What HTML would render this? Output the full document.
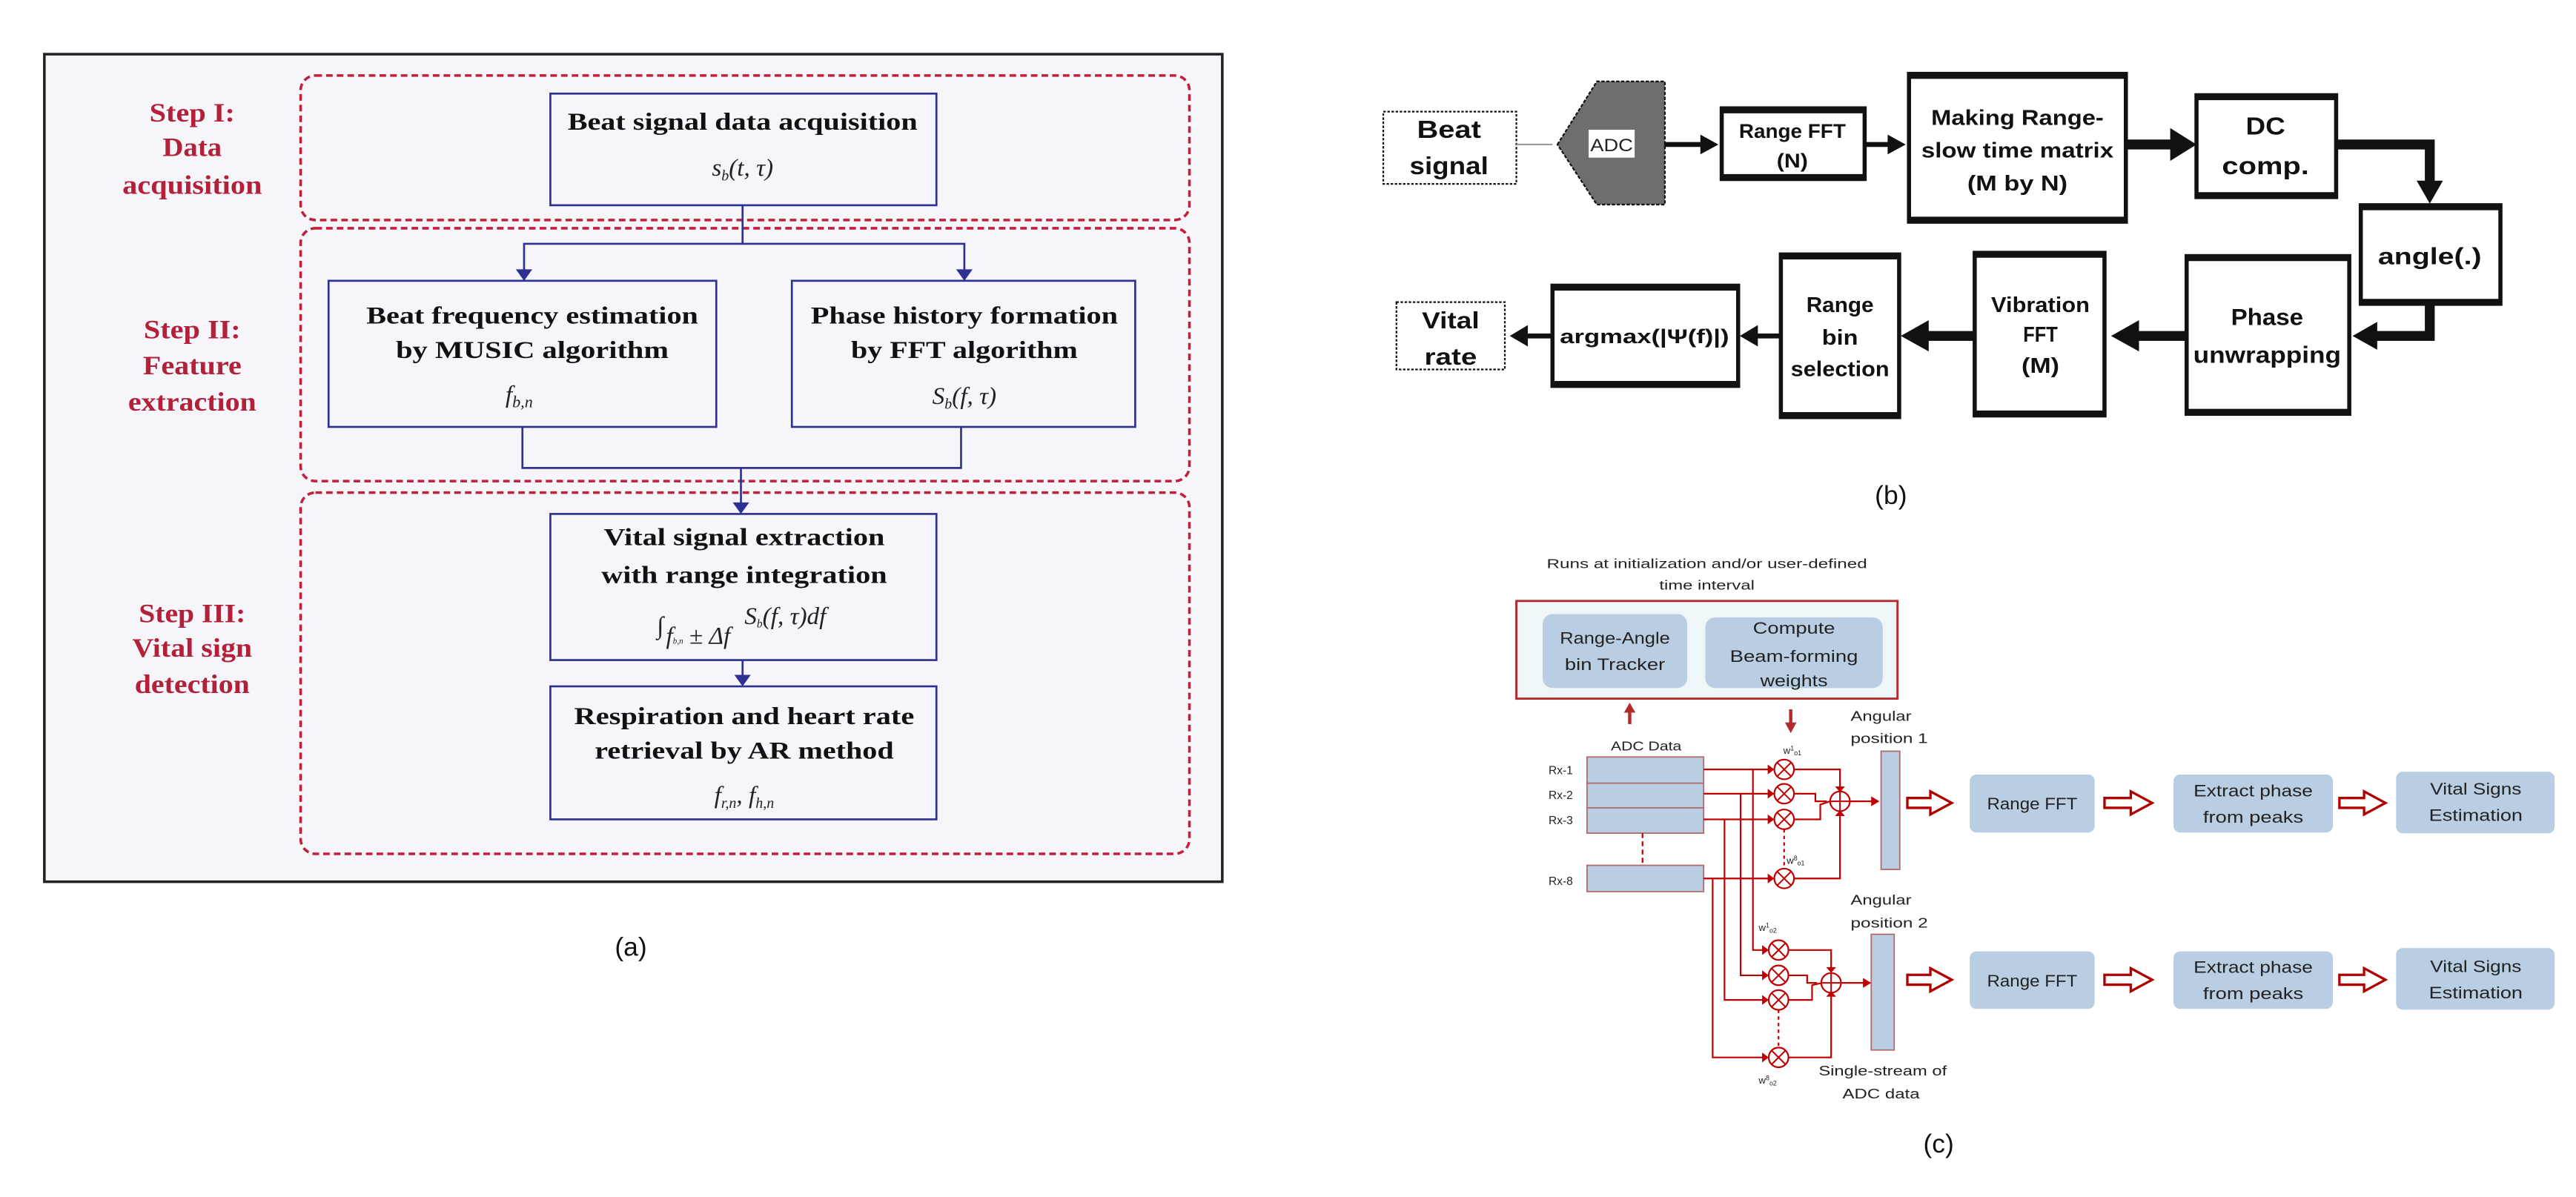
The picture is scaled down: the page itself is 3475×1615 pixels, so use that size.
<!DOCTYPE html>
<html><head><meta charset="utf-8"><style>
html,body{margin:0;padding:0;background:#fff;}
svg{display:block;}
.st{font-family:"Liberation Serif",serif;font-weight:bold;fill:#b3203a;font-size:16px;text-anchor:middle;}
.ta{font-family:"Liberation Serif",serif;font-weight:bold;fill:#111;font-size:15px;text-anchor:middle;}
.fm{font-family:"Liberation Serif",serif;font-style:italic;fill:#222;font-size:15px;text-anchor:middle;}
.tb{font-family:"Liberation Sans",sans-serif;font-weight:bold;fill:#111;text-anchor:middle;}
.tc{font-family:"Liberation Sans",sans-serif;fill:#222;text-anchor:middle;}
.lab{font-family:"Liberation Sans",sans-serif;fill:#111;font-size:16px;text-anchor:middle;}
</style></head><body>
<svg width="3475" height="1615" viewBox="0 0 1568 729" preserveAspectRatio="none" xmlns="http://www.w3.org/2000/svg">
<rect x="0" y="0" width="1568" height="729" fill="#fff"/>
<!-- ========== (a) ========== -->
<rect x="27" y="33" width="717" height="504" fill="#f5f5fa" stroke="#222" stroke-width="1.6"/>
<g fill="none" stroke="#c0203a" stroke-width="1.6" stroke-dasharray="4,2.5">
<rect x="183" y="46" width="541" height="88" rx="9"/>
<rect x="183" y="139" width="541" height="154" rx="9"/>
<rect x="183" y="300" width="541" height="220" rx="9"/>
</g>
<text class="st" x="117" y="74" textLength="52" lengthAdjust="spacingAndGlyphs">Step I:</text>
<text class="st" x="117" y="95" textLength="36" lengthAdjust="spacingAndGlyphs">Data</text>
<text class="st" x="117" y="118" textLength="85" lengthAdjust="spacingAndGlyphs">acquisition</text>
<text class="st" x="117" y="206" textLength="59" lengthAdjust="spacingAndGlyphs">Step II:</text>
<text class="st" x="117" y="228" textLength="60" lengthAdjust="spacingAndGlyphs">Feature</text>
<text class="st" x="117" y="250" textLength="78" lengthAdjust="spacingAndGlyphs">extraction</text>
<text class="st" x="117" y="379" textLength="65" lengthAdjust="spacingAndGlyphs">Step III:</text>
<text class="st" x="117" y="400" textLength="73" lengthAdjust="spacingAndGlyphs">Vital sign</text>
<text class="st" x="117" y="422" textLength="70" lengthAdjust="spacingAndGlyphs">detection</text>
<g fill="none" stroke="#2e3192" stroke-width="1.2">
<rect x="335" y="57" width="235" height="68"/>
<rect x="200" y="171" width="236" height="89"/>
<rect x="482" y="171" width="209" height="89"/>
<rect x="335" y="313" width="235" height="89"/>
<rect x="335" y="418" width="235" height="81"/>
<polyline points="452,125 452,148.5 319,148.5 319,166"/>
<polyline points="452,148.5 587,148.5 587,166"/>
<polyline points="318,260 318,285 585,285 585,260"/>
<line x1="451" y1="285" x2="451" y2="308"/>
<line x1="452" y1="402" x2="452" y2="413"/>
</g>
<g fill="#2e3192">
<polygon points="314,164 324,164 319,171"/>
<polygon points="582,164 592,164 587,171"/>
<polygon points="446,306 456,306 451,313"/>
<polygon points="447,411 457,411 452,418"/>
</g>
<text class="ta" x="452" y="79" textLength="213" lengthAdjust="spacingAndGlyphs">Beat signal data acquisition</text>
<text class="fm" x="452" y="107">s<tspan font-size="9" dy="3">b</tspan><tspan dy="-3">(t, τ)</tspan></text>
<text class="ta" x="324" y="197" textLength="202" lengthAdjust="spacingAndGlyphs">Beat frequency estimation</text>
<text class="ta" x="324" y="218" textLength="166" lengthAdjust="spacingAndGlyphs">by MUSIC algorithm</text>
<text class="fm" x="316" y="245">f<tspan font-size="10" dy="3">b,n</tspan></text>
<text class="ta" x="587" y="197" textLength="187" lengthAdjust="spacingAndGlyphs">Phase history formation</text>
<text class="ta" x="587" y="218" textLength="138" lengthAdjust="spacingAndGlyphs">by FFT algorithm</text>
<text class="fm" x="587" y="246">S<tspan font-size="9" dy="3">b</tspan><tspan dy="-3">(f, τ)</tspan></text>
<text class="ta" x="453" y="332" textLength="171" lengthAdjust="spacingAndGlyphs">Vital signal extraction</text>
<text class="ta" x="453" y="355" textLength="174" lengthAdjust="spacingAndGlyphs">with range integration</text>
<text class="fm" x="402" y="386" font-size="22">∫</text>
<text class="fm" x="425" y="392" font-size="7">f<tspan font-size="5">b,n</tspan> ± Δf</text>
<text class="fm" x="478" y="380" font-size="12">S<tspan font-size="7" dy="2">b</tspan><tspan dy="-2">(f, τ)df</tspan></text>
<text class="ta" x="453" y="441" textLength="207" lengthAdjust="spacingAndGlyphs">Respiration and heart rate</text>
<text class="ta" x="453" y="462" textLength="182" lengthAdjust="spacingAndGlyphs">retrieval by AR method</text>
<text class="fm" x="453" y="489">f<tspan font-size="9" dy="3">r,n</tspan><tspan dy="-3">, f</tspan><tspan font-size="9" dy="3">h,n</tspan></text>
<text class="lab" x="384" y="582">(a)</text>

<!-- ========== (b) ========== -->
<g fill="#fff" stroke="#111">
<rect x="842" y="68" width="81" height="44" stroke-width="1" stroke-dasharray="1.5,1"/>
<rect x="850" y="184" width="66" height="41" stroke-width="1" stroke-dasharray="1.5,1"/>
</g>
<line x1="923" y1="88" x2="945" y2="88" stroke="#999" stroke-width="1"/>
<polygon points="948,88 972,49.6 1013.4,49.6 1013.4,124.6 972,124.6" fill="#6e6e6e" stroke="#111" stroke-width="1" stroke-dasharray="2,1"/>
<rect x="967" y="79" width="28" height="17" fill="#fff"/>
<text class="tc" x="981" y="92" font-size="11" textLength="26" lengthAdjust="spacingAndGlyphs">ADC</text>
<g fill="#fff" stroke="#111" stroke-width="2.5">
<rect x="1048" y="66" width="87" height="43"/>
<rect x="1162" y="45" width="132" height="90"/>
<rect x="1337" y="58" width="85" height="62"/>
<rect x="1437" y="125" width="85" height="60"/>
<rect x="1331" y="156" width="99" height="96"/>
<rect x="1202" y="154" width="79" height="99"/>
<rect x="1084" y="155" width="72" height="99"/>
<rect x="945" y="174" width="113" height="61"/>
</g>
<g stroke="#111" stroke-width="4">
<line x1="1048" y1="67" x2="1135" y2="67"/><line x1="1048" y1="108" x2="1135" y2="108"/>
<line x1="1162" y1="46" x2="1294" y2="46"/><line x1="1162" y1="134" x2="1294" y2="134"/>
<line x1="1337" y1="59" x2="1422" y2="59"/><line x1="1337" y1="119" x2="1422" y2="119"/>
<line x1="1437" y1="126" x2="1522" y2="126"/><line x1="1437" y1="184" x2="1522" y2="184"/>
<line x1="1331" y1="157" x2="1430" y2="157"/><line x1="1331" y1="251" x2="1430" y2="251"/>
<line x1="1202" y1="155" x2="1281" y2="155"/><line x1="1202" y1="252" x2="1281" y2="252"/>
<line x1="1084" y1="156" x2="1156" y2="156"/><line x1="1084" y1="253" x2="1156" y2="253"/>
<line x1="945" y1="175" x2="1058" y2="175"/><line x1="945" y1="234" x2="1058" y2="234"/>
</g>
<g stroke="#111" fill="none">
<line x1="1013" y1="88" x2="1037" y2="88" stroke-width="3"/>
<line x1="1135" y1="88" x2="1151" y2="88" stroke-width="3"/>
<line x1="1294" y1="88" x2="1323" y2="88" stroke-width="6"/>
<polyline points="1422,88 1479,88 1479,112" stroke-width="6"/>
<polyline points="1479,185 1479,204.6 1446,204.6" stroke-width="6"/>
<line x1="1331" y1="204.6" x2="1300" y2="204.6" stroke-width="6"/>
<line x1="1202" y1="204.6" x2="1172" y2="204.6" stroke-width="6"/>
<line x1="1084" y1="204.6" x2="1068" y2="204.6" stroke-width="3"/>
<line x1="945" y1="204.6" x2="928" y2="204.6" stroke-width="3"/>
</g>
<g fill="#111">
<polygon points="1035,82 1046,88 1035,94"/>
<polygon points="1149,82 1160,88 1149,94"/>
<polygon points="1321,78 1337,88 1321,98"/>
<polygon points="1471,110 1487,110 1479,124"/>
<polygon points="1447,196 1447,213 1432,204.6"/>
<polygon points="1302,195 1302,214 1285,204.6"/>
<polygon points="1174,195 1174,214 1157,204.6"/>
<polygon points="1070,198 1070,211 1059,204.6"/>
<polygon points="930,198 930,211 919,204.6"/>
</g>
<text class="tb" x="882" y="84" font-size="15" textLength="39" lengthAdjust="spacingAndGlyphs">Beat</text>
<text class="tb" x="882" y="106" font-size="15" textLength="48" lengthAdjust="spacingAndGlyphs">signal</text>
<text class="tb" x="1091" y="84" font-size="12" textLength="65" lengthAdjust="spacingAndGlyphs">Range FFT</text>
<text class="tb" x="1091" y="102" font-size="12" textLength="19" lengthAdjust="spacingAndGlyphs">(N)</text>
<text class="tb" x="1228" y="76" font-size="13" textLength="105" lengthAdjust="spacingAndGlyphs">Making Range-</text>
<text class="tb" x="1228" y="96" font-size="13" textLength="117" lengthAdjust="spacingAndGlyphs">slow time matrix</text>
<text class="tb" x="1228" y="116" font-size="13" textLength="61" lengthAdjust="spacingAndGlyphs">(M by N)</text>
<text class="tb" x="1379" y="82" font-size="15" textLength="24" lengthAdjust="spacingAndGlyphs">DC</text>
<text class="tb" x="1379" y="106" font-size="15" textLength="53" lengthAdjust="spacingAndGlyphs">comp.</text>
<text class="tb" x="1479" y="161" font-size="14" textLength="63" lengthAdjust="spacingAndGlyphs">angle(.)</text>
<text class="tb" x="1380" y="198" font-size="14" textLength="44" lengthAdjust="spacingAndGlyphs">Phase</text>
<text class="tb" x="1380" y="221" font-size="14" textLength="90" lengthAdjust="spacingAndGlyphs">unwrapping</text>
<text class="tb" x="1242" y="190" font-size="13" textLength="60" lengthAdjust="spacingAndGlyphs">Vibration</text>
<text class="tb" x="1242" y="208" font-size="13" textLength="21" lengthAdjust="spacingAndGlyphs">FFT</text>
<text class="tb" x="1242" y="227" font-size="13" textLength="23" lengthAdjust="spacingAndGlyphs">(M)</text>
<text class="tb" x="1120" y="190" font-size="13" textLength="41" lengthAdjust="spacingAndGlyphs">Range</text>
<text class="tb" x="1120" y="210" font-size="13" textLength="22" lengthAdjust="spacingAndGlyphs">bin</text>
<text class="tb" x="1120" y="229" font-size="13" textLength="60" lengthAdjust="spacingAndGlyphs">selection</text>
<text class="tb" x="1001" y="209" font-size="12" textLength="103" lengthAdjust="spacingAndGlyphs">argmax(|Ψ(f)|)</text>
<text class="tb" x="883" y="200" font-size="14" textLength="35" lengthAdjust="spacingAndGlyphs">Vital</text>
<text class="tb" x="883" y="222" font-size="14" textLength="32" lengthAdjust="spacingAndGlyphs">rate</text>
<text class="lab" x="1151" y="307">(b)</text>

<!-- ========== (c) ========== -->
<text class="tc" x="1039" y="346" font-size="8" textLength="195" lengthAdjust="spacingAndGlyphs">Runs at initialization  and/or user-defined</text>
<text class="tc" x="1039" y="359" font-size="8" textLength="58" lengthAdjust="spacingAndGlyphs">time interval</text>
<rect x="923" y="366" width="232" height="59.5" fill="#eef6f9" stroke="#b22a2a" stroke-width="1.3"/>
<g fill="#b9cde3">
<rect x="939" y="374" width="88" height="45" rx="6"/>
<rect x="1038" y="376" width="108" height="43" rx="6"/>
<rect x="1199" y="471.7" width="76" height="35.3" rx="4"/>
<rect x="1323" y="471.7" width="97" height="35.3" rx="4"/>
<rect x="1458.5" y="470" width="96.5" height="37.5" rx="4"/>
<rect x="1199" y="579.4" width="76" height="35" rx="4"/>
<rect x="1323" y="579.4" width="97" height="35" rx="4"/>
<rect x="1458.5" y="577.4" width="96.5" height="37.5" rx="4"/>
</g>
<g fill="#b9cde3" stroke="#b06a6a" stroke-width="0.8">
<rect x="966" y="461" width="71" height="16"/>
<rect x="966" y="477" width="71" height="15"/>
<rect x="966" y="492" width="71" height="15.4"/>
<rect x="966" y="527" width="71" height="16"/>
<rect x="1145" y="457.5" width="11.4" height="72"/>
<rect x="1139" y="569" width="14" height="70.5"/>
</g>
<text class="tc" x="983" y="392" font-size="10" textLength="67" lengthAdjust="spacingAndGlyphs">Range-Angle</text>
<text class="tc" x="983" y="408" font-size="10" textLength="61" lengthAdjust="spacingAndGlyphs">bin Tracker</text>
<text class="tc" x="1092" y="386" font-size="10" textLength="50" lengthAdjust="spacingAndGlyphs">Compute</text>
<text class="tc" x="1092" y="403" font-size="10" textLength="78" lengthAdjust="spacingAndGlyphs">Beam-forming</text>
<text class="tc" x="1092" y="418" font-size="10" textLength="41" lengthAdjust="spacingAndGlyphs">weights</text>
<g stroke="#b22a2a" stroke-width="2" fill="#b22a2a">
<line x1="992" y1="441" x2="992" y2="433"/><polygon points="988.5,434 995.5,434 992,428" stroke="none"/>
<line x1="1090" y1="432" x2="1090" y2="441"/><polygon points="1086.5,440 1093.5,440 1090,446.5" stroke="none"/>
</g>
<text class="tc" x="1002" y="457" font-size="8" textLength="43" lengthAdjust="spacingAndGlyphs">ADC Data</text>
<g class="tc" font-size="7">
<text x="950" y="471.5">Rx-1</text><text x="950" y="486.5">Rx-2</text><text x="950" y="502">Rx-3</text><text x="950" y="539">Rx-8</text>
</g>
<line x1="999.8" y1="507.4" x2="999.8" y2="527" stroke="#c00000" stroke-width="1" stroke-dasharray="3,2"/>
<!-- wires -->
<g stroke="#c00000" stroke-width="1" fill="none">
<line x1="1037" y1="468.6" x2="1078" y2="468.6"/>
<line x1="1037" y1="483.4" x2="1078" y2="483.4"/>
<line x1="1037" y1="499" x2="1078" y2="499"/>
<line x1="1037" y1="535" x2="1078" y2="535"/>
<polyline points="1067,468.6 1067,578.6 1074.6,578.6"/>
<polyline points="1059.5,483.4 1059.5,594 1074.6,594"/>
<polyline points="1049.7,499 1049.7,609 1074.6,609"/>
<polyline points="1042.5,535 1042.5,644 1074.6,644"/>
<polyline points="1092,468.6 1120,468.6 1120,480"/>
<polyline points="1092,483.4 1105,483.4 1105,488 1112,488"/>
<polyline points="1092,499 1108,499 1108,490 1114,488"/>
<polyline points="1092,535 1120,535 1120,496"/>
<line x1="1126" y1="488" x2="1141" y2="488"/>
<line x1="1086" y1="505" x2="1086" y2="529" stroke-dasharray="2,2"/>
<polyline points="1088.6,578.6 1114.6,578.6 1114.6,590"/>
<polyline points="1088.6,594 1100,594 1100,598.6 1106,598.6"/>
<polyline points="1088.6,609 1103,609 1103,600 1109,598.6"/>
<polyline points="1088.6,644 1114.6,644 1114.6,606"/>
<line x1="1120.6" y1="598.6" x2="1136" y2="598.6"/>
<line x1="1082.6" y1="615" x2="1082.6" y2="638" stroke-dasharray="2,2"/>
</g>
<g fill="#c00000">
<polygon points="1076,465.6 1080,468.6 1076,471.6"/><polygon points="1076,480.4 1080,483.4 1076,486.4"/>
<polygon points="1076,496 1080,499 1076,502"/><polygon points="1076,532 1080,535 1076,538"/>
<polygon points="1072.6,575.6 1076.6,578.6 1072.6,581.6"/><polygon points="1072.6,591 1076.6,594 1072.6,597"/>
<polygon points="1072.6,606 1076.6,609 1072.6,612"/><polygon points="1072.6,641 1076.6,644 1072.6,647"/>
<polygon points="1117,479 1123,479 1120,482.5"/><polygon points="1117,497 1123,497 1120,493.5"/>
<polygon points="1139,485 1144,488 1139,491"/>
<polygon points="1111.6,589 1117.6,589 1114.6,592.5"/><polygon points="1111.6,607 1117.6,607 1114.6,603.5"/>
<polygon points="1134,595.6 1139,598.6 1134,601.6"/>
</g>
<g fill="#fff" stroke="#c00000" stroke-width="1">
<g id="m1"></g>
<circle cx="1086" cy="468.6" r="6"/><circle cx="1086" cy="483.4" r="6"/><circle cx="1086" cy="499" r="6"/><circle cx="1086" cy="535" r="6"/>
<circle cx="1082.6" cy="578.6" r="6"/><circle cx="1082.6" cy="594" r="6"/><circle cx="1082.6" cy="609" r="6"/><circle cx="1082.6" cy="644" r="6"/>
<circle cx="1120" cy="488" r="6"/><circle cx="1114.6" cy="598.6" r="6"/>
</g>
<g stroke="#c00000" stroke-width="0.9">
<path d="M1081.8,464.4 L1090.2,472.8 M1090.2,464.4 L1081.8,472.8"/>
<path d="M1081.8,479.2 L1090.2,487.6 M1090.2,479.2 L1081.8,487.6"/>
<path d="M1081.8,494.8 L1090.2,503.2 M1090.2,494.8 L1081.8,503.2"/>
<path d="M1081.8,530.8 L1090.2,539.2 M1090.2,530.8 L1081.8,539.2"/>
<path d="M1078.4,574.4 L1086.8,582.8 M1086.8,574.4 L1078.4,582.8"/>
<path d="M1078.4,589.8 L1086.8,598.2 M1086.8,589.8 L1078.4,598.2"/>
<path d="M1078.4,604.8 L1086.8,613.2 M1086.8,604.8 L1078.4,613.2"/>
<path d="M1078.4,639.8 L1086.8,648.2 M1086.8,639.8 L1078.4,648.2"/>
<path d="M1114,488 H1126 M1120,482 V494"/>
<path d="M1108.6,598.6 H1120.6 M1114.6,592.6 V604.6"/>
</g>
<g class="tc" font-size="6">
<text x="1091" y="459">w<tspan font-size="4" dy="-2">1</tspan><tspan font-size="4" dy="3">o1</tspan></text>
<text x="1093" y="526">w<tspan font-size="4" dy="-2">8</tspan><tspan font-size="4" dy="3">o1</tspan></text>
<text x="1076" y="567">w<tspan font-size="4" dy="-2">1</tspan><tspan font-size="4" dy="3">o2</tspan></text>
<text x="1076" y="660">w<tspan font-size="4" dy="-2">8</tspan><tspan font-size="4" dy="3">o2</tspan></text>
</g>
<text class="tc" x="1145" y="439" font-size="8.5" textLength="37" lengthAdjust="spacingAndGlyphs">Angular</text>
<text class="tc" x="1150" y="452.5" font-size="8.5" textLength="47" lengthAdjust="spacingAndGlyphs">position 1</text>
<text class="tc" x="1145" y="551" font-size="8.5" textLength="37" lengthAdjust="spacingAndGlyphs">Angular</text>
<text class="tc" x="1150" y="565" font-size="8.5" textLength="47" lengthAdjust="spacingAndGlyphs">position 2</text>
<text class="tc" x="1146" y="655" font-size="8.5" textLength="78" lengthAdjust="spacingAndGlyphs">Single-stream of</text>
<text class="tc" x="1145" y="669" font-size="8.5" textLength="47" lengthAdjust="spacingAndGlyphs">ADC data</text>
<g fill="#fff" stroke="#b00000" stroke-width="1.5">
<polygon points="1161,486 1175,486 1175,482 1188,489 1175,496 1175,492 1161,492"/>
<polygon points="1281,486 1297,486 1297,482 1310,489 1297,496 1297,492 1281,492"/>
<polygon points="1424,486 1439,486 1439,482 1452,489 1439,496 1439,492 1424,492"/>
<polygon points="1161,593.7 1175,593.7 1175,589.7 1188,596.7 1175,603.7 1175,599.7 1161,599.7"/>
<polygon points="1281,593.7 1297,593.7 1297,589.7 1310,596.7 1297,603.7 1297,599.7 1281,599.7"/>
<polygon points="1424,593.7 1439,593.7 1439,589.7 1452,596.7 1439,603.7 1439,599.7 1424,599.7"/>
</g>
<g class="tc" font-size="10">
<text x="1237" y="493" textLength="55" lengthAdjust="spacingAndGlyphs">Range FFT</text>
<text x="1371.5" y="485" textLength="72.5" lengthAdjust="spacingAndGlyphs">Extract phase</text>
<text x="1371.5" y="501" textLength="61" lengthAdjust="spacingAndGlyphs">from peaks</text>
<text x="1507" y="484" textLength="55.5" lengthAdjust="spacingAndGlyphs">Vital Signs</text>
<text x="1507" y="500" textLength="57" lengthAdjust="spacingAndGlyphs">Estimation</text>
<text x="1237" y="600.7" textLength="55" lengthAdjust="spacingAndGlyphs">Range FFT</text>
<text x="1371.5" y="592.5" textLength="72.5" lengthAdjust="spacingAndGlyphs">Extract phase</text>
<text x="1371.5" y="608.5" textLength="61" lengthAdjust="spacingAndGlyphs">from peaks</text>
<text x="1507" y="592" textLength="55.5" lengthAdjust="spacingAndGlyphs">Vital Signs</text>
<text x="1507" y="608" textLength="57" lengthAdjust="spacingAndGlyphs">Estimation</text>
</g>
<text class="lab" x="1180" y="702">(c)</text>
</svg>
</body></html>
